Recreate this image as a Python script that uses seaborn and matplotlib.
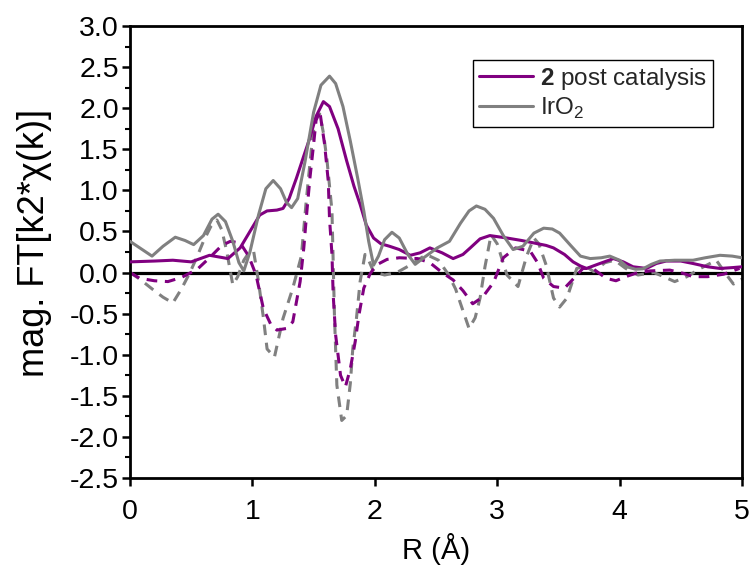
"""EXAFS Fourier transform: sample 2 post catalysis vs IrO2."""

import matplotlib

matplotlib.use("Agg")
import matplotlib.pyplot as plt
import seaborn as sns
from matplotlib.ticker import FormatStrFormatter, MultipleLocator

PURPLE = "#800080"
GREY = "#808080"

# magnitude of FT, sample 2 post catalysis
r_mag2 = [0.0, 0.2, 0.35, 0.5, 0.65, 0.8, 0.9, 1.0, 1.06, 1.12, 1.2, 1.25, 1.3, 1.36, 1.42, 1.47,
          1.52, 1.58, 1.63, 1.7, 1.77, 1.83, 1.88, 1.93, 1.99, 2.05, 2.12, 2.2, 2.29, 2.37, 2.45,
          2.55, 2.64, 2.72, 2.78, 2.86, 2.94, 3.08, 3.2, 3.3, 3.4, 3.46, 3.55, 3.62, 3.68, 3.73,
          3.82, 3.95, 4.03, 4.11, 4.22, 4.3, 4.38, 4.5, 4.6, 4.72, 4.82, 4.92, 5.0]
mag2 = [0.13, 0.14, 0.15, 0.13, 0.21, 0.17, 0.30, 0.55, 0.70, 0.75, 0.76, 0.78, 0.90, 1.15, 1.42, 1.64,
        1.90, 2.08, 2.02, 1.75, 1.36, 1.05, 0.83, 0.58, 0.42, 0.35, 0.32, 0.28, 0.21, 0.24, 0.30,
        0.24, 0.17, 0.22, 0.30, 0.41, 0.45, 0.42, 0.39, 0.36, 0.33, 0.30, 0.22, 0.13, 0.08, 0.05,
        0.10, 0.17, 0.13, 0.07, 0.05, 0.11, 0.14, 0.14, 0.11, 0.07, 0.05, 0.06, 0.07]

# magnitude of FT, IrO2 reference
r_mag_ir = [0.0, 0.08, 0.18, 0.27, 0.37, 0.45, 0.52, 0.6, 0.67, 0.72, 0.78, 0.84, 0.89, 0.93, 0.98,
            1.05, 1.11, 1.17, 1.23, 1.28, 1.32, 1.37, 1.43, 1.5, 1.56, 1.63, 1.68, 1.74, 1.8, 1.86,
            1.91, 1.95, 1.99, 2.03, 2.08, 2.14, 2.2, 2.27, 2.33, 2.4, 2.51, 2.61, 2.7, 2.77, 2.83,
            2.9, 2.97, 3.05, 3.13, 3.21, 3.3, 3.38, 3.45, 3.51, 3.6, 3.68, 3.76, 3.85, 3.92, 4.0,
            4.06, 4.13, 4.19, 4.26, 4.33, 4.45, 4.6, 4.7, 4.82, 4.92, 5.0]
mag_ir = [0.38, 0.30, 0.20, 0.32, 0.43, 0.39, 0.34, 0.45, 0.65, 0.71, 0.62, 0.38, 0.12, 0.02, 0.25,
          0.70, 1.02, 1.12, 1.02, 0.85, 0.79, 0.90, 1.35, 1.95, 2.28, 2.39, 2.30, 2.02, 1.60, 1.15,
          0.75, 0.38, 0.09, 0.20, 0.40, 0.49, 0.42, 0.22, 0.10, 0.18, 0.30, 0.38, 0.60, 0.75, 0.81,
          0.77, 0.66, 0.45, 0.28, 0.32, 0.48, 0.54, 0.53, 0.48, 0.33, 0.20, 0.17, 0.18, 0.20, 0.15,
          0.07, 0.04, 0.045, 0.10, 0.14, 0.15, 0.15, 0.18, 0.21, 0.20, 0.18]

# real part of FT, sample 2
r_re2 = [0.0, 0.08, 0.2, 0.31, 0.42, 0.55, 0.65, 0.75, 0.82, 0.9, 0.97, 1.03, 1.09, 1.15, 1.2, 1.28,
         1.33, 1.39, 1.42, 1.44, 1.47, 1.5, 1.52, 1.55, 1.59, 1.62, 1.63, 1.65, 1.66, 1.68, 1.72,
         1.76, 1.8, 1.84, 1.87, 1.91, 1.96, 2.01, 2.1, 2.2, 2.35, 2.45, 2.55, 2.64, 2.72, 2.8,
         2.88, 2.97, 3.05, 3.15, 3.27, 3.33, 3.38, 3.46, 3.55, 3.62, 3.7, 3.78, 3.89, 3.97, 4.05,
         4.15, 4.25, 4.41, 4.52, 4.6, 4.72, 4.85, 4.98]
re2 = [0.0, -0.07, -0.10, -0.11, -0.06, 0.04, 0.18, 0.33, 0.38, 0.36, 0.20, -0.03, -0.44, -0.63,
       -0.70, -0.68, -0.60, -0.11, 0.30, 0.66, 1.15, 1.56, 1.85, 1.97, 1.56, 1.11, 0.66, 0.22,
       -0.27, -0.76, -1.25, -1.39, -1.17, -0.84, -0.52, -0.19, -0.02, 0.09, 0.16, 0.18, 0.17,
       0.12, 0.0, -0.09, -0.22, -0.38, -0.30, -0.12, 0.18, 0.30, 0.26, 0.12, -0.07, -0.17, -0.19,
       -0.08, 0.05, 0.05, -0.07, -0.10, -0.05, 0.0, 0.02, 0.03, -0.01, -0.05, -0.05, -0.02, 0.05]

# real part of FT, IrO2
r_re_ir = [0.0, 0.08, 0.19, 0.27, 0.35, 0.42, 0.49, 0.55, 0.6, 0.66, 0.71, 0.75, 0.79, 0.84, 0.88,
           0.93, 0.98, 1.01, 1.05, 1.09, 1.12, 1.18, 1.25, 1.33, 1.4, 1.44, 1.48, 1.51, 1.55, 1.58,
           1.61, 1.65, 1.66, 1.67, 1.69, 1.73, 1.77, 1.8, 1.82, 1.85, 1.88, 1.92, 1.95, 1.99, 2.08,
           2.18, 2.3, 2.42, 2.52, 2.6, 2.66, 2.71, 2.77, 2.82, 2.86, 2.9, 2.95, 3.0, 3.08, 3.17,
           3.24, 3.3, 3.34, 3.4, 3.46, 3.51, 3.57, 3.65, 3.72, 3.79, 3.88, 3.96, 4.05, 4.15, 4.28,
           4.36, 4.45, 4.55, 4.66, 4.79, 4.86, 4.93, 5.0]
re_ir = [0.0, -0.08, -0.21, -0.30, -0.37, -0.20, 0.0, 0.20, 0.38, 0.56, 0.64, 0.52, 0.26, -0.15,
         -0.05, 0.15, 0.26, 0.26, -0.11, -0.55, -0.93, -1.03, -0.56, -0.19, 0.20, 0.87, 1.48, 1.85,
         1.93, 1.70, 1.36, 0.75, 0.13, -0.50, -1.37, -1.80, -1.74, -1.35, -0.93, -0.56, -0.11, 0.22,
         0.15, 0.01, -0.03, 0.0, 0.10, 0.22, 0.15, -0.02, -0.20, -0.42, -0.68, -0.55, -0.31, 0.07,
         0.46, 0.35, -0.03, -0.17, 0.20, 0.42, 0.35, 0.09, -0.31, -0.42, -0.31, 0.05, 0.08, 0.01,
         0.12, 0.15, 0.05, -0.03, 0.0, -0.05, -0.11, -0.05, 0.05, 0.15, 0.0, -0.14, -0.08]


def main() -> None:
    sns.set_theme(style="ticks")
    plt.rcParams["font.family"] = ["Liberation Sans", "DejaVu Sans"]
    plt.rcParams["mathtext.fontset"] = "custom"
    plt.rcParams["mathtext.rm"] = "Liberation Sans"
    plt.rcParams["mathtext.bf"] = "Liberation Sans:bold"

    fig = plt.figure(figsize=(7.54, 5.73), dpi=100)
    ax = fig.add_axes([0.1724, 0.1658, 0.8117, 0.7888])

    ax.axhline(0, color="black", linewidth=2.3, zorder=1)

    dash = (0, (3.5, 2.5))
    sns.lineplot(x=r_re_ir, y=re_ir, ax=ax, color=GREY, linewidth=2.2, linestyle=dash,
                 sort=False, estimator=None, zorder=2)
    sns.lineplot(x=r_re2, y=re2, ax=ax, color=PURPLE, linewidth=2.2, linestyle=dash,
                 sort=False, estimator=None, zorder=2)
    sns.lineplot(x=r_mag2, y=mag2, ax=ax, color=PURPLE, linewidth=2.2, sort=False,
                 estimator=None, label=r"$\mathbf{2}$ post catalysis", zorder=3)
    sns.lineplot(x=r_mag_ir, y=mag_ir, ax=ax, color=GREY, linewidth=2.2, sort=False,
                 estimator=None, label=r"IrO$_2$", zorder=3)

    ax.set_xlim(0, 5)
    ax.set_ylim(-2.5, 3.0)
    ax.xaxis.set_major_locator(MultipleLocator(1))
    ax.yaxis.set_major_locator(MultipleLocator(0.5))
    ax.yaxis.set_minor_locator(MultipleLocator(0.25))
    ax.yaxis.set_major_formatter(FormatStrFormatter("%.1f"))
    ax.tick_params(axis="both", which="major", direction="out", length=6, width=1.8,
                   labelsize=20.5, color="black", labelcolor="black")
    ax.tick_params(axis="x", which="major", pad=9)
    ax.tick_params(axis="y", which="major", pad=2)
    ax.tick_params(axis="y", which="minor", direction="out", length=3.5, width=1.5, color="black")
    ax.tick_params(top=False, right=False)
    for side in ["left", "right", "top", "bottom"]:
        ax.spines[side].set_visible(True)
        ax.spines[side].set_color("black")
        ax.spines[side].set_linewidth(2.0)

    ax.set_xlabel("R (Å)", fontsize=21, labelpad=6, color="black")
    ax.set_ylabel("mag. FT[k2*χ(k)]", fontsize=26, color="black")
    ax.yaxis.set_label_coords(-0.128, 0.52)

    leg = ax.legend(loc="upper left", bbox_to_anchor=(0.5605, 0.925), borderaxespad=0,
                    fontsize=17.5, frameon=True, fancybox=False, framealpha=1,
                    edgecolor="black", handlelength=2.2, handletextpad=0.3,
                    borderpad=0.25, labelspacing=0.15)
    leg.get_frame().set_linewidth(1.0)

    fig.savefig("out.png", dpi=100)
    plt.close(fig)


if __name__ == "__main__":
    main()
